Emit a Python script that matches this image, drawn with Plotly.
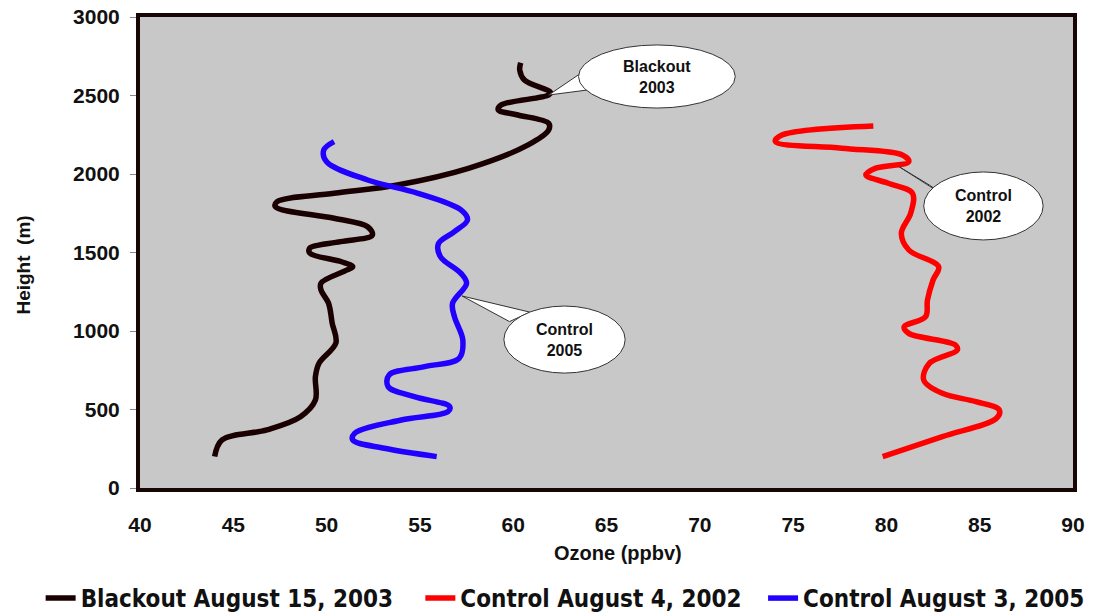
import plotly.graph_objects as go

# ---- data (ozone ppbv, height m) ----
blackout_ozone = [44.0, 44.4, 46.8, 48.6, 49.4, 49.4, 49.6, 50.5, 50.3, 50.1, 49.7, 49.7, 51.1, 51.4, 50.8,
                  49.1, 49.1, 50.75, 52.45, 52.2, 50.4, 47.25, 47.35, 50.4, 53.8, 57.6, 60.8, 61.9, 61.9,
                  60.25, 59.2, 59.35, 61.9, 62.0, 60.6, 60.35, 60.4]
blackout_height = [200, 306, 370, 454, 560, 709, 796, 924, 1050, 1178, 1261, 1305, 1389, 1410, 1441,
                   1496, 1528, 1569, 1611, 1664, 1718, 1792, 1824, 1877, 1930, 2036, 2185, 2280, 2323,
                   2376, 2408, 2439, 2503, 2520, 2599, 2662, 2709]

c2002_ozone = [79.8, 83.0, 85.9, 86.05, 84.8, 83.0, 82.0, 82.3, 83.8, 83.7, 81.2, 80.95, 82.1, 82.2, 82.5,
               82.8, 81.2, 80.8, 81.3, 81.4, 80.1, 78.9, 79.4, 81.2, 80.85, 77.6, 74.05, 74.4, 79.3]
c2002_height = [200, 327, 444, 497, 550, 603, 688, 794, 879, 911, 985, 1027, 1091, 1197, 1325,
                1410, 1516, 1622, 1750, 1877, 1941, 1994, 2036, 2078, 2121, 2164, 2206, 2248, 2306]

c2005_ozone = [55.9, 53.1, 51.4, 51.5, 54.0, 56.5, 56.6, 54.7, 53.3, 53.35, 55.25, 57.1, 57.3, 56.85, 56.75,
               57.5, 57.2, 56.1, 56.0, 56.85, 57.55, 57.2, 54.9, 52.2, 50.0, 49.85, 50.4]
c2005_height = [200, 253, 306, 348, 433, 486, 518, 582, 645, 720, 773, 826, 943, 1091, 1176,
                1304, 1367, 1473, 1558, 1633, 1707, 1771, 1877, 1962, 2078, 2153, 2206]

series_names = ["Blackout August 15, 2003", "Control August 4, 2002", "Control August 3, 2005"]
x_ticks = [40, 45, 50, 55, 60, 65, 70, 75, 80, 85, 90]
y_ticks = [0, 500, 1000, 1500, 2000, 2500, 3000]

# callouts: (text, tip x, tip y, ellipse x0, x1, y0, y1, base1, base2)
callouts = [
    ("Blackout<br>2003", 61.9, 2503, 63.5, 71.9, 2420, 2822, (63.6, 2640), (64.3, 2540)),
    ("Control<br>2002", 80.7, 2045, 82.0, 88.4, 1580, 2013, (82.3, 1930), (83.4, 1840)),
    ("Control<br>2005", 57.26, 1223, 59.5, 66.0, 732, 1159, (59.8, 1060), (60.9, 1120)),
]

colors = ["#1a0000", "#ff0000", "#2200ff"]
legend_ids = ["legend", "legend2", "legend3"]
legend_x = [0.030, 0.379, 0.694]

fig = go.Figure()
for name, xs, ys, col, lid in zip(series_names,
                                  [blackout_ozone, c2002_ozone, c2005_ozone],
                                  [blackout_height, c2002_height, c2005_height], colors, legend_ids):
    fig.add_trace(go.Scatter(x=xs, y=ys, mode="lines", name=f"<b>{name}</b>", legend=lid,
                             line=dict(color=col, width=5.5, shape="spline", smoothing=1.0)))

for text, tx, ty, x0, x1, y0, y1, b1, b2 in callouts:
    fig.add_shape(type="path", xref="x", yref="y",
                  path=f"M {b1[0]},{b1[1]} L {tx},{ty} L {b2[0]},{b2[1]} Z",
                  fillcolor="white", line=dict(color="#333333", width=1))
    fig.add_shape(type="circle", xref="x", yref="y", x0=x0, x1=x1, y0=y0, y1=y1,
                  fillcolor="white", line=dict(color="#333333", width=1))
    fig.add_annotation(x=(x0 + x1) / 2, y=(y0 + y1) / 2, text=f"<b>{text}</b>", showarrow=False,
                       font=dict(family="Liberation Sans, Arial", size=16, color="#111111"))

font_main = "Liberation Sans, Arial"
legend_font = dict(family="DejaVu Sans Condensed, Liberation Sans", size=24, color="#111111")

# axis titles as annotations
fig.add_annotation(xref="paper", yref="paper", x=0.512, y=-0.138, text="<b>Ozone (ppbv)</b>",
                   showarrow=False, xanchor="center", yanchor="middle",
                   font=dict(size=20, family=font_main, color="#111111"))
fig.add_annotation(xref="paper", yref="paper", x=-0.125, y=0.473, text="<b>Height  (m)</b>",
                   showarrow=False, xanchor="center", yanchor="middle", textangle=-90,
                   font=dict(size=19, family=font_main, color="#111111"))

layout_legends = {}
for lid, lx in zip(legend_ids, legend_x):
    layout_legends[lid] = dict(orientation="h", xref="container", yref="container",
                               x=lx, xanchor="left", y=0.024, yanchor="middle",
                               font=legend_font, itemwidth=30, bgcolor="rgba(0,0,0,0)")

fig.update_layout(
    width=1088, height=605,
    margin=dict(l=132, r=23, t=9, b=125, autoexpand=False),
    paper_bgcolor="white", plot_bgcolor="#c8c8c8",
    showlegend=True,
    font=dict(family=font_main, color="#111111"),
    **layout_legends,
)
fig.update_xaxes(range=[40, 90], tickvals=x_ticks, ticktext=[f"<b>{v}</b>" for v in x_ticks],
                 showgrid=False, zeroline=False, showline=True, linewidth=4, linecolor="#1a0505",
                 mirror=True, ticks="", ticklabelstandoff=15, automargin=False,
                 ticklabeloverflow="allow",
                 tickfont=dict(size=21, family=font_main))
fig.update_yaxes(range=[0, 3000], tickvals=y_ticks, ticktext=[f"<b>{v}</b>" for v in y_ticks],
                 showgrid=False, zeroline=False, showline=True, linewidth=4, linecolor="#1a0505",
                 mirror=True, ticks="outside", ticklen=6, tickcolor="#888888", ticklabelstandoff=6,
                 automargin=False, ticklabeloverflow="allow",
                 tickfont=dict(size=21, family=font_main))

fig.write_html("out.html")
